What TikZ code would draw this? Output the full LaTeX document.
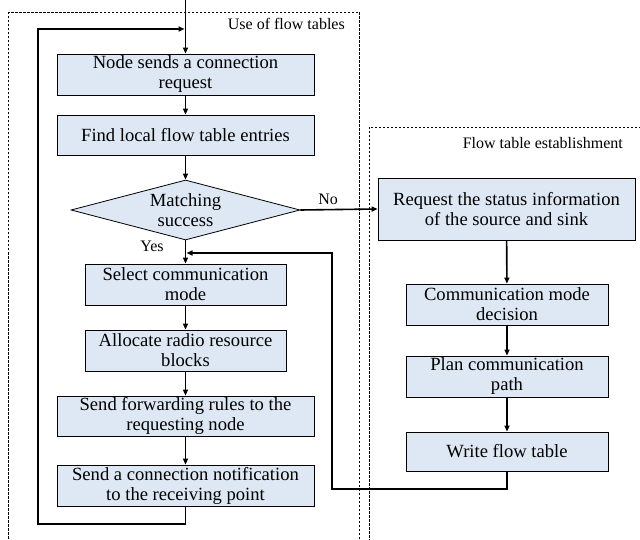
\documentclass[tikz,border=0pt]{standalone}
\usepackage{fontspec}
\setmainfont{Liberation Serif}
\usetikzlibrary{shapes.geometric,arrows.meta}
\definecolor{boxblue}{HTML}{DEE8F4}
\begin{document}
\begin{tikzpicture}[x=1pt, y=-1pt, inner sep=0mm,
		boxstyle/.style={draw, fill=boxblue, line width=0.8pt, align=center, minimum height=41pt,
			font=\fontsize{18.6}{20}\selectfont},
		decisionstyle/.style={draw, diamond, fill=boxblue, line width=0.8pt, align=center, aspect=3.8,
			minimum width=229pt, minimum height=60pt, font=\fontsize{18.6}{20}\selectfont},
		edgestyle/.style={line width=1.6pt, -{Triangle[length=6pt, width=5pt]}},
		framestyle/.style={line width=0.6pt, dash pattern=on 2.5pt off 1.5pt},
		labelstyle/.style={font=\fontsize{16}{18}\selectfont}]

		\clip (0,0) rectangle (640,540);

		% dashed frames
		\draw[framestyle] (8,12) rectangle (359,560);
		\draw[framestyle] (369,127) rectangle (660,560);
		\node[labelstyle, anchor=east] (usetitle) at (345,24) {Use of flow tables};
		\node[labelstyle, anchor=east] (esttitle) at (623,143) {Flow table establishment};

		% use of flow tables
		\node [boxstyle, minimum width=257pt] (req) at (185.5,74.5) {Node sends a connection\\request};
		\node [boxstyle, minimum width=257pt, minimum height=40pt] (find) at (185.5,135) {Find local flow table entries};
		\node [decisionstyle] (match) at (185.5,210) {Matching\\success};
		\node [boxstyle, minimum width=201pt] (select) at (185.5,284.5) {Select communication\\mode};
		\node [boxstyle, minimum width=201pt] (alloc) at (185.5,350.5) {Allocate radio resource\\blocks};
		\node [boxstyle, minimum width=257pt, minimum height=40pt] (rules) at (185.5,416) {Send forwarding rules to the\\requesting node};
		\node [boxstyle, minimum width=257pt] (notify) at (185.5,485.5) {Send a connection notification\\to the receiving point};

		% flow table establishment
		\node [boxstyle, minimum width=257pt, minimum height=62pt] (status) at (506.5,209) {Request the status information\\of the source and sink};
		\node [boxstyle, minimum width=202pt] (decide) at (507,304.5) {Communication mode\\decision};
		\node [boxstyle, minimum width=202pt] (plan) at (507,376.5) {Plan communication\\path};
		\node [boxstyle, minimum width=202pt, minimum height=39pt] (write) at (507,451.5) {Write flow table};

		\coordinate (entry) at (185.5,0);
		\coordinate (loopin) at (185.5,29);
		\coordinate (backin) at (185.5,253);

		\draw[edgestyle] (entry) -- (req);
		\draw[edgestyle] (req) -- (find);
		\draw[edgestyle] (find) -- (match);
		\draw[edgestyle] (match.south) -- (select);
		\draw[edgestyle] (select) -- (alloc);
		\draw[edgestyle] (alloc) -- (rules);
		\draw[edgestyle] (rules) -- (notify);
		\draw[edgestyle] (notify.south) -- ++(0,17.5) -| (38,29) -- ([xshift=-1pt]loopin);

		\draw[edgestyle] (match.east) -- (status.west) node[pos=0.36, above=4pt, labelstyle] (nolabel) {No};
		\node[labelstyle] (yeslabel) at (152,246) {Yes};

		\draw[edgestyle] (status) -- (decide);
		\draw[edgestyle] (decide) -- (plan);
		\draw[edgestyle] (plan) -- (write);
		\draw[edgestyle] (write.south) -- ++(0,17.5) -| (332,253) -- ([xshift=1pt]backin);

		\end{tikzpicture}
\end{document}
